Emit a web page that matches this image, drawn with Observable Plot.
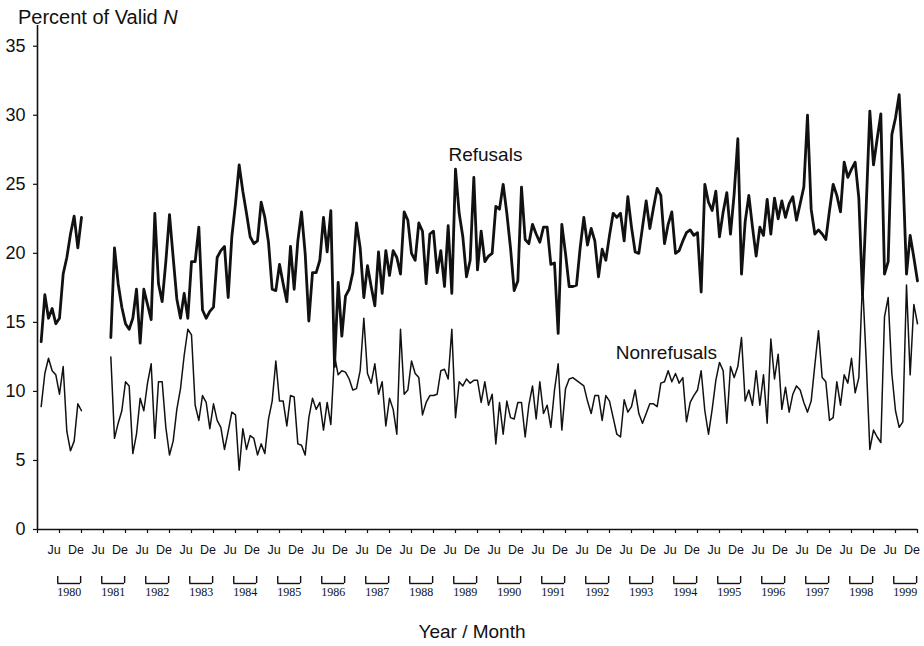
<!DOCTYPE html>
<html>
<head>
<meta charset="utf-8">
<script src="https://cdn.jsdelivr.net/npm/d3@7"></script>
<script src="https://cdn.jsdelivr.net/npm/@observablehq/plot@0.6"></script>
<style>
  html, body { margin: 0; padding: 0; background: #fff; }
  #chart { position: relative; width: 924px; height: 646px; color: #111;
           font-family: "Liberation Sans", Arial, Helvetica, sans-serif; }
  #chart svg { position: absolute; left: 0; overflow: visible; background: transparent; }
  .ytitle { position: absolute; left: 18px; top: 7px; font-size: 20px; line-height: 1; white-space: nowrap; }
  .xtitle { position: absolute; left: 0; width: 944px; top: 622px; font-size: 19px; line-height: 1; text-align: center; }
</style>
</head>
<body>
<div id="chart">
  <div class="ytitle">Percent of Valid <i>N</i></div>
  <div class="xtitle">Year / Month</div>
</div>
<script>
// Monthly percentages, January 1980 through December 1999 (one row per year).
// Null marks months with no survey (January–July 1981).
const refusals = [
  13.6, 17.0, 15.3, 16.0, 14.9, 15.3, 18.5, 19.7, 21.4, 22.7, 20.4, 22.6, // 1980
  null, null, null, null, null, null, null, 13.9, 20.4, 17.8, 16.1, 14.9, // 1981
  14.5, 15.3, 17.4, 13.5, 17.4, 16.3, 15.2, 22.9, 17.8, 16.5, 19.4, 22.8, // 1982
  19.7, 16.7, 15.3, 17.1, 15.3, 19.4, 19.4, 21.9, 15.9, 15.3, 15.8, 16.1, // 1983
  19.7, 20.2, 20.5, 16.8, 21.2, 23.6, 26.4, 24.5, 22.9, 21.2, 20.7, 20.9, // 1984
  23.7, 22.6, 20.8, 17.4, 17.3, 19.2, 17.8, 16.5, 20.5, 17.4, 20.9, 23.0, // 1985
  20.0, 15.1, 18.6, 18.6, 19.5, 22.6, 20.1, 23.1, 11.8, 17.9, 14.0, 16.9, // 1986
  17.4, 18.6, 22.2, 20.4, 16.8, 19.1, 17.6, 16.2, 20.1, 17.1, 20.2, 18.4, // 1987
  20.2, 19.7, 18.5, 23.0, 22.4, 20.0, 19.5, 22.2, 21.6, 17.8, 21.4, 21.6, // 1988
  18.6, 20.2, 17.6, 22.0, 17.1, 26.1, 22.9, 21.2, 18.3, 19.5, 25.5, 18.8, // 1989
  21.6, 19.4, 19.8, 20.0, 23.4, 23.2, 25.0, 22.9, 20.4, 17.3, 18.0, 24.8, // 1990
  21.0, 20.7, 22.1, 21.4, 20.8, 21.9, 21.9, 19.2, 19.3, 14.2, 22.1, 20.0, // 1991
  17.6, 17.6, 17.7, 20.4, 22.6, 20.6, 21.8, 20.9, 18.3, 20.3, 19.5, 21.3, // 1992
  22.9, 22.6, 22.9, 20.9, 24.1, 21.9, 20.1, 20.0, 21.9, 23.8, 21.8, 23.3, // 1993
  24.7, 24.2, 20.7, 22.1, 23.0, 20.0, 20.2, 20.9, 21.5, 21.7, 21.3, 21.5, // 1994
  17.2, 25.0, 23.7, 23.1, 24.5, 21.2, 23.0, 24.4, 21.4, 24.3, 28.3, 18.5, // 1995
  22.3, 24.2, 21.9, 19.8, 21.9, 21.3, 23.9, 21.4, 24.0, 22.5, 23.8, 22.6, // 1996
  23.6, 24.1, 22.4, 23.6, 24.8, 30.0, 23.2, 21.4, 21.7, 21.4, 21.0, 23.1, // 1997
  25.0, 24.2, 23.0, 26.6, 25.5, 26.1, 26.6, 24.0, 17.0, 23.3, 30.3, 26.4, // 1998
  28.3, 30.1, 18.5, 19.4, 28.6, 29.8, 31.5, 26.0, 18.5, 21.3, 19.7, 18.0  // 1999
];

const nonrefusals = [
   8.9, 11.3, 12.4, 11.5, 11.2,  9.8, 11.8,  7.1,  5.7,  6.4,  9.1,  8.6, // 1980
  null, null, null, null, null, null, null, 12.5,  6.6,  7.7,  8.6, 10.7, // 1981
  10.4,  5.5,  6.9,  9.5,  8.6, 10.6, 12.0,  6.6, 10.7, 10.7,  7.4,  5.4, // 1982
   6.4,  8.7, 10.2, 12.6, 14.5, 14.1,  9.0,  7.9,  9.7,  9.2,  7.3,  9.1, // 1983
   7.9,  7.4,  5.8,  7.1,  8.5,  8.3,  4.3,  7.3,  5.8,  6.8,  6.6,  5.4, // 1984
   6.2,  5.5,  8.0,  9.3, 12.2,  9.3,  9.3,  7.5,  9.7,  9.6,  6.2,  6.1, // 1985
   5.4,  8.1,  9.5,  8.7,  9.2,  7.2,  9.2,  7.6, 12.6, 11.2, 11.5, 11.4, // 1986
  10.9, 10.1, 10.2, 11.5, 15.3, 11.3, 10.6, 12.0,  9.8, 10.7,  7.5,  9.5, // 1987
   8.7,  6.9, 14.5,  9.8, 10.1, 12.2, 11.3, 11.0,  8.3,  9.2,  9.7,  9.7, // 1988
   9.8, 11.5, 11.6, 10.9, 14.5,  8.1, 10.7, 10.4, 10.9, 10.6, 10.8, 10.8, // 1989
   9.2, 10.7,  9.0,  9.8,  6.2,  9.2,  6.9,  9.3,  8.1,  8.0,  9.2,  9.2, // 1990
   6.7,  9.0, 10.4,  8.0, 10.7,  8.4,  9.0,  7.4, 10.1, 12.0,  7.2, 10.2, // 1991
  10.9, 11.0, 10.8, 10.6, 10.4,  9.3,  8.4,  9.7,  9.7,  7.9,  9.7,  9.3, // 1992
   8.1,  6.9,  6.7,  9.4,  8.5,  8.9, 10.1,  8.4,  7.7,  8.4,  9.1,  9.1, // 1993
   8.9, 10.6, 10.7, 11.5, 10.7, 11.3, 10.6, 11.0,  7.8,  9.2,  9.7, 10.1, // 1994
  11.5,  8.6,  6.9,  8.7, 10.8, 12.1, 11.5,  7.7, 11.8, 11.0, 11.8, 13.9, // 1995
   9.3, 10.1,  9.0, 11.5,  9.0, 11.2,  7.7, 13.8, 10.9, 12.7,  8.7, 10.3, // 1996
   8.5,  9.8, 10.4, 10.1,  9.2,  8.5,  9.3, 11.9, 14.4, 11.0, 10.7,  7.9, // 1997
   8.1, 10.7,  9.0, 11.2, 10.6, 12.4,  9.9, 11.0, 18.0, 12.3,  5.8,  7.2, // 1998
   6.7,  6.3, 15.4, 16.8, 11.3,  8.6,  7.4,  7.8, 17.7, 11.2, 16.3, 14.9  // 1999
];

const years = d3.range(1980, 2000);
const monthTicks = ["Ju", "De"];
const yTicks = [0, 5, 10, 15, 20, 25, 30, 35];

// Each value sits at the end of its month on a decimal-year axis.
const monthEnd = (d, i) => 1980 + (i + 1) / 12;

const width = 924;
const margins = { marginLeft: 37, marginRight: 7 };
const font = '"Liberation Sans", Arial, Helvetica, sans-serif';

const halfYearTicks = d3.range(0, 41).map(k => 1980 + k / 2);
const labelTicks = years.flatMap(y => [y + 4.5 / 12, y + 10.5 / 12]);

const main = Plot.plot({
  width, height: 560, ...margins, marginTop: 25, marginBottom: 31,
  style: { fontFamily: font, color: "#111", background: "transparent" },
  x: { domain: [1980, 2000] },
  y: { domain: [0, 36.5] },
  marks: [
    Plot.axisY({ ticks: yTicks, tickSize: 4, tickPadding: 8, fontSize: 18, label: null, strokeWidth: 1.2 }),
    Plot.axisX({ ticks: halfYearTicks, tickSize: 4, tickFormat: () => "", label: null, strokeWidth: 1.2 }),
    Plot.axisX({
      ticks: labelTicks, tickSize: 0, tickPadding: 15.5, fontSize: 12.5, label: null,
      tickFormat: t => monthTicks[(t - Math.floor(t)) < 0.5 ? 0 : 1]
    }),
    Plot.ruleX([1980], { strokeWidth: 1.6 }),
    Plot.ruleY([0], { strokeWidth: 1.6 }),
    Plot.lineY(nonrefusals, { x: monthEnd, y: d => d, stroke: "#111", strokeWidth: 1.5 }),
    Plot.lineY(refusals, { x: monthEnd, y: d => d, stroke: "#111", strokeWidth: 2.8 }),
    Plot.text(["Refusals"], { x: 1989.34, y: 27.1, text: d => d, textAnchor: "start", fontSize: 19, fill: "#111" }),
    Plot.text(["Nonrefusals"], { x: 1993.14, y: 12.8, text: d => d, textAnchor: "start", fontSize: 19, fill: "#111" })
  ]
});
main.style.top = "0px";

// Year brackets spanning the second half of each year, with the year below.
const bracketStart = y => y + 0.46;
const bracketEnd = y => y + 0.98;
const brackets = Plot.plot({
  width, height: 50, ...margins, marginTop: 11, marginBottom: 32,
  style: { fontFamily: font, color: "#111", background: "transparent" },
  x: { domain: [1980, 2000], axis: null },
  y: { domain: [0, 1], axis: null },
  marks: [
    Plot.ruleY(years, { x1: bracketStart, x2: bracketEnd, y: 0, strokeWidth: 1.4 }),
    Plot.ruleX(years, { x: bracketStart, y1: 0, y2: 1, strokeWidth: 1.4 }),
    Plot.ruleX(years, { x: bracketEnd, y1: 0, y2: 1, strokeWidth: 1.4 }),
    Plot.text(years, {
      x: y => (bracketStart(y) + bracketEnd(y)) / 2, y: 0, text: y => String(y),
      lineAnchor: "top", dy: 4, fontSize: 12, fontFamily: '"Liberation Serif", "Times New Roman", serif', fill: "#111"
    })
  ]
});
brackets.style.top = "565px";

const chart = document.getElementById("chart");
chart.appendChild(main);
chart.appendChild(brackets);
</script>
</body>
</html>
